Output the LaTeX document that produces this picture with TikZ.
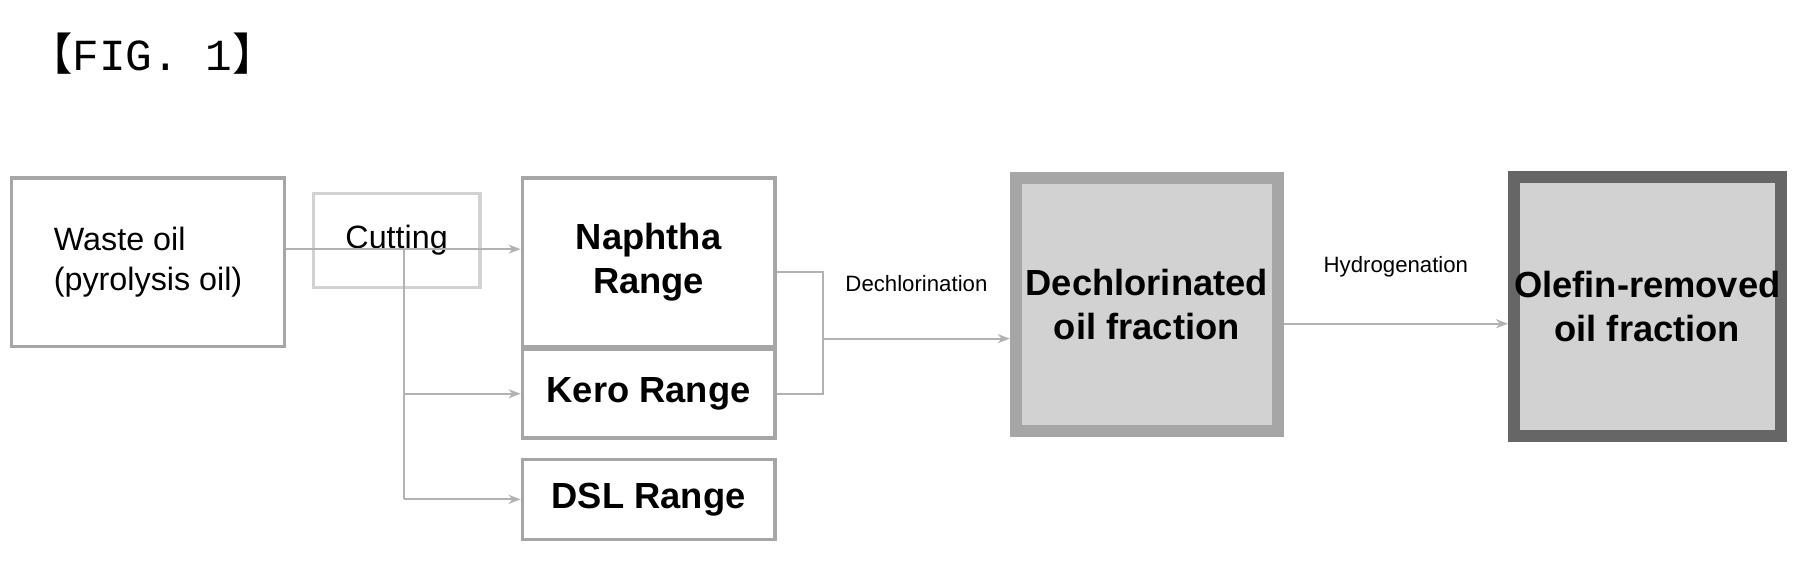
\documentclass[tikz,border=0pt]{standalone}
\usepackage{fontspec}
\setmainfont{Liberation Sans}
\setmonofont{Liberation Mono}
\newfontfamily\cjk{Noto Sans CJK SC}
\usetikzlibrary{arrows.meta}

\begin{document}
\begin{tikzpicture}[x=0.01cm,y=-0.01cm,
    box/.style={draw=gray!70,line width=0.8pt,align=center,inner sep=0pt},
    fbox/.style={box,fill=gray!35,line width=3pt},
    lbl/.style={font=\fontsize{5.5}{6}\selectfont},
    flow/.style={draw=gray!60,line width=0.5pt,-{Stealth[length=3pt]}},
    link/.style={draw=gray!60,line width=0.5pt}]
    \useasboundingbox (0,0) rectangle (1568,490);
    %title
    \node[anchor=west,font=\ttfamily\fontsize{11}{12}\selectfont] (fig) at (12,47) {{\cjk 【}FIG. 1{\cjk 】}};
    
    %boxes
    \node[box,minimum width=2.38cm,minimum height=1.47cm,font=\fontsize{8}{10}\selectfont,align=left] (waste) at (129,228.5) {Waste oil\\(pyrolysis oil)};
    \node[box,draw=gray!35,minimum width=1.45cm,minimum height=0.82cm,font=\fontsize{8}{10}\selectfont,anchor=north] (cut) at (345.5,167) {Cutting};
    \node[box,minimum width=2.2cm,minimum height=1.47cm,font=\bfseries\fontsize{9}{11}\selectfont] (naph) at (565,228.5) {Naphtha\\Range};
    \node[box,minimum width=2.2cm,minimum height=0.77cm,font=\bfseries\fontsize{9}{11}\selectfont] (kero) at (565,343) {Kero Range};
    \node[box,minimum width=2.2cm,minimum height=0.7cm,font=\bfseries\fontsize{9}{11}\selectfont] (dsl) at (565,435) {DSL Range};
    \node[fbox,minimum width=2.28cm,minimum height=2.2cm,font=\bfseries\fontsize{9}{11}\selectfont] (dechl) at (999,265) {Dechlorinated\\oil fraction};
    \node[fbox,draw=gray!80!black,minimum width=2.3cm,minimum height=2.25cm,font=\bfseries\fontsize{9}{11}\selectfont] (olef) at (1435,267) {Olefin-removed\\oil fraction};
    
    %connectors
    \coordinate (split) at (352,217);
    \coordinate (join) at (717,295);
    \draw[flow] (waste.east |- split) -- (naph.west |- split);
    \draw[link] (split) -- (split |- dsl.west);
    \draw[flow] (split |- kero.west) -- (kero.west);
    \draw[flow] (split |- dsl.west) -- (dsl.west);
    \draw[link] (naph.east |- 0,237) -| (join) |- (kero.east);
    \draw[flow] (join) -- node[lbl,above=8pt] (dlab) {Dechlorination} (dechl.west |- join);
    \draw[flow] (dechl.east |- 0,282) -- node[lbl,above=8pt] (hlab) {Hydrogenation} (olef.west |- 0,282);
\end{tikzpicture}
\end{document}
